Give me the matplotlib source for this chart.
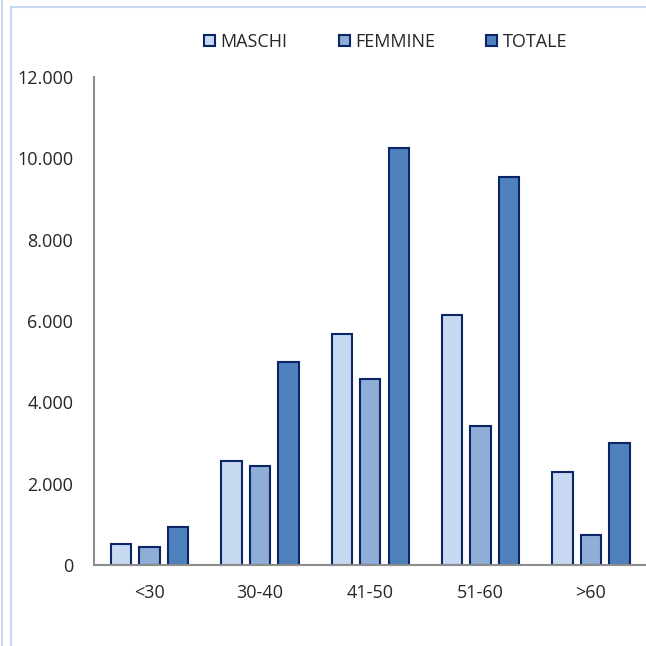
import matplotlib.pyplot as plt
import numpy as np
from matplotlib.lines import Line2D

plt.rcParams['font.family'] = ['Open Sans', 'DejaVu Sans']

fasce = ['<30', '30-40', '41-50', '51-60', '>60']
maschi = [515, 2550, 5680, 6150, 2290]
femmine = [440, 2440, 4580, 3420, 730]
totale = [940, 4985, 10250, 9550, 3010]

serie = [('MASCHI', maschi, '#c6d9f0'),
         ('FEMMINE', femmine, '#8eaed6'),
         ('TOTALE', totale, '#4f81bd')]

W, H = 646, 646
fig = plt.figure(figsize=(W / 100, H / 100), dpi=100)
ax = fig.add_axes([94 / W, (H - 565) / H, (646 - 94) / W, (565 - 77) / H])

x = np.arange(len(fasce))
step = 0.2585
for i, (nome, vals, col) in enumerate(serie):
    ax.bar(x + (i - 1) * step, vals, width=0.185, color=col,
           edgecolor='#0b2566', linewidth=1.5, label=nome, zorder=3)

ax.set_xlim(-0.505, 4.5)
ax.set_ylim(0, 12000)
ax.set_yticks(np.arange(0, 12001, 2000))
ax.set_yticklabels(['0' if v == 0 else f'{v:,}'.replace(',', '.') for v in range(0, 12001, 2000)])
ax.set_xticks(x)
ax.set_xticklabels(fasce)
ax.tick_params(axis='both', length=0, labelsize=13, colors='#262626')
ax.tick_params(axis='y', pad=15)
ax.tick_params(axis='x', pad=14)

for s in ['top', 'right']:
    ax.spines[s].set_visible(False)
for s in ['left', 'bottom']:
    ax.spines[s].set_color('#8c8c8c')
    ax.spines[s].set_linewidth(1.5)
    ax.spines[s].set_zorder(4)

leg = fig.legend(loc='center left', bbox_to_anchor=(204 / W, 1 - 42 / H), ncol=3,
                 frameon=False, fontsize=13, handlelength=0.6, handleheight=0.6,
                 handletextpad=0.3, columnspacing=2.85, borderpad=0, borderaxespad=0)
for t in leg.get_texts():
    t.set_color('#262626')

# cornice chiara del riquadro
bordo = '#c6d9f1'
fig.add_artist(Line2D([1.5 / W, 1.5 / W], [0, 1], color=bordo, lw=1.5))
fig.add_artist(Line2D([11 / W, 11 / W], [0, 1 - 7 / H], color=bordo, lw=1.5))
fig.add_artist(Line2D([11 / W, 1], [1 - 7 / H, 1 - 7 / H], color=bordo, lw=1.5))

fig.savefig('out.png', dpi=100)
